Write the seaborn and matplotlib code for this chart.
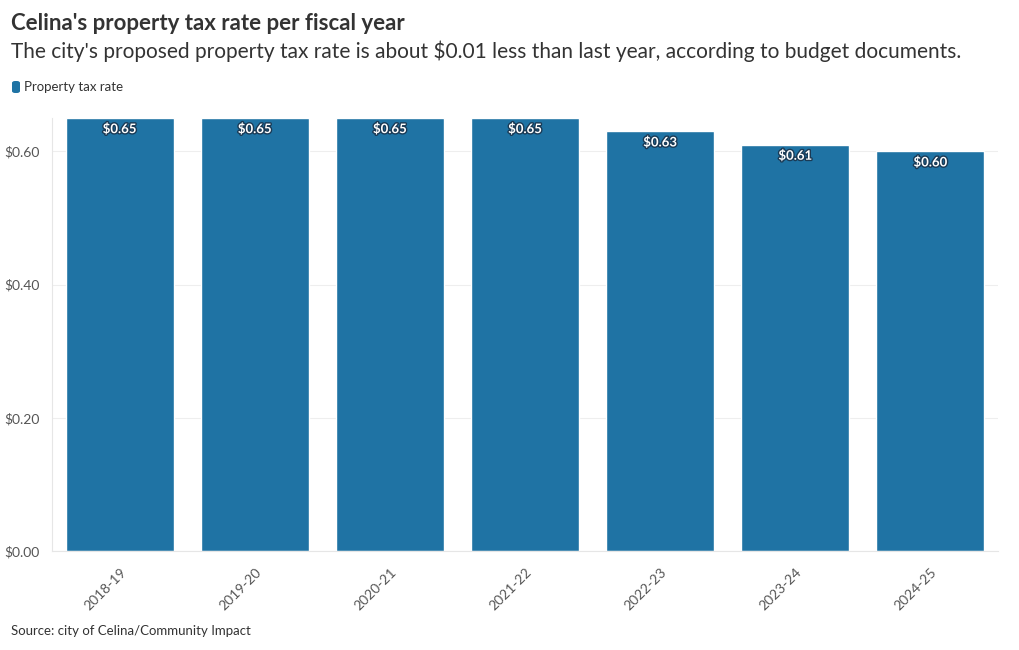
import matplotlib
matplotlib.use("Agg")
import matplotlib.pyplot as plt
import matplotlib.patheffects as pe
from matplotlib.patches import FancyBboxPatch
import seaborn as sns
import pandas as pd

# data
years = ["2018-19", "2019-20", "2020-21", "2021-22", "2022-23", "2023-24", "2024-25"]
rates = [0.65, 0.65, 0.65, 0.65, 0.63, 0.61, 0.60]
series_name = "Property tax rate"
yticks = [0.0, 0.2, 0.4, 0.6]

bar_color = "#1f73a4"

sns.set_theme(style="white")
plt.rcParams["font.family"] = ["Lato", "DejaVu Sans"]

df = pd.DataFrame({"year": years, "rate": rates})

fig = plt.figure(figsize=(10.2, 6.5), dpi=100)
ax = fig.add_axes([52 / 1020, 99 / 650, 946 / 1020, 433 / 650])

sns.barplot(data=df, x="year", y="rate", color=bar_color, saturation=1,
            width=0.8, ax=ax, zorder=2)

ax.set_ylim(0, 0.65)
ax.set_xlim(-0.5, len(years) - 0.5)
ax.set_yticks(yticks)
ax.set_yticklabels([f"${v:.2f}" for v in yticks], fontsize=10, color="#555555")
ax.set_xticks(range(len(years)))
ax.set_xticklabels(years, rotation=45, ha="right", rotation_mode="anchor",
                   fontsize=10, color="#555555")
ax.tick_params(axis="x", length=4, color="#dddddd", pad=7)
ax.tick_params(axis="y", length=5, color="#dddddd", pad=4)
ax.set_xlabel("")
ax.set_ylabel("")
ax.grid(axis="y", color="#eeeeee", linewidth=0.8, zorder=0)
for s in ["top", "right"]:
    ax.spines[s].set_visible(False)
for s in ["left", "bottom"]:
    ax.spines[s].set_color("#e6e6e6")
    ax.spines[s].set_linewidth(0.8)

# value labels inside the top of each bar
for i, v in enumerate(rates):
    ax.annotate(f"${v:.2f}", xy=(i, v), xytext=(0, -8), textcoords="offset points",
                ha="center", va="center", fontsize=9.5, fontweight="bold", color="white",
                path_effects=[pe.withStroke(linewidth=2, foreground="#1a3a55")], zorder=3)

# titles
fig.text(11 / 1020, 1 - 24 / 650, "Celina's property tax rate per fiscal year",
         fontsize=16, fontweight="bold", color="#333333", va="center")
fig.text(11 / 1020, 1 - 51 / 650,
         "The city's proposed property tax rate is about $0.01 less than last year, according to budget documents.",
         fontsize=15, color="#333333", va="center")

# legend
fig.patches.append(FancyBboxPatch((12 / 1020, 1 - 93 / 650), 8 / 1020, 12 / 650,
                                  boxstyle="round,pad=0,rounding_size=0.003",
                                  transform=fig.transFigure, facecolor=bar_color,
                                  edgecolor="none"))
fig.text(24 / 1020, 1 - 87 / 650, series_name, fontsize=9.5, color="#333333", va="center")

# source
fig.text(11 / 1020, 1 - 631 / 650, "Source: city of Celina/Community Impact",
         fontsize=9.5, color="#333333", va="center")

fig.savefig("out.png", dpi=100, facecolor="white")
